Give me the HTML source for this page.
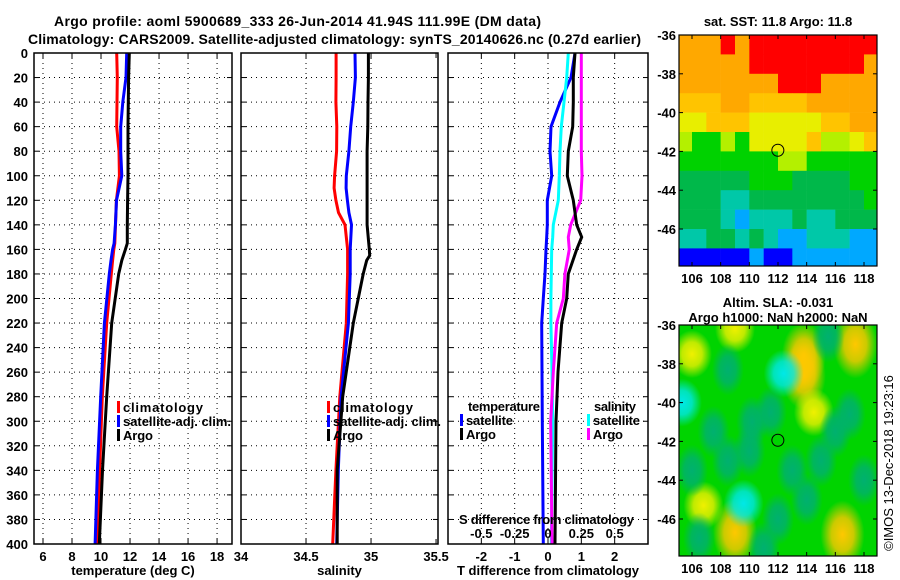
<!DOCTYPE html>
<html><head><meta charset="utf-8"><style>
body{margin:0;background:#fff}
svg{display:block;font-family:"Liberation Sans",sans-serif;font-weight:bold}
</style></head><body>
<svg id="c" width="900" height="580" viewBox="0 0 900 580" xmlns="http://www.w3.org/2000/svg">
<text x="54" y="26" font-size="14" textLength="487">Argo profile: aoml 5900689_333 26-Jun-2014 41.94S 111.99E (DM data)</text>
<text x="28" y="44" font-size="14" textLength="613">Climatology: CARS2009. Satellite-adjusted climatology: synTS_20140626.nc (0.27d earlier)</text>
<g id="g"></g>
</svg>
<script>
// ---- data ----
const depths=[0,20,40,60,80,100,120,140,155,160,169,180,220,280,340,400];
const tClim=[11.08,11.12,11.1,11.08,11.24,11.27,11.06,11.0,10.95,10.88,10.8,10.71,10.39,10.09,9.9,9.77];
const tSat=[11.77,11.72,11.5,11.36,11.36,11.43,11.07,10.99,10.9,10.8,10.69,10.57,10.23,9.98,9.75,9.59];
const tArgo=[11.95,11.9,11.88,11.86,11.86,11.86,11.83,11.81,11.81,11.68,11.43,11.22,10.74,10.39,10.1,9.88];
const sDepths=[0,20,40,60,80,100,110,120,130,140,160,165,169,180,220,280,340,400];
const sClim=[34.731,34.731,34.73,34.737,34.735,34.72,34.716,34.73,34.75,34.80,34.82,34.82,34.82,34.82,34.81,34.76,34.73,34.705];
const sSat=[34.877,34.88,34.864,34.844,34.83,34.81,34.808,34.818,34.83,34.85,34.84,34.84,34.84,34.84,34.826,34.77,34.748,34.736];
const sArgo=[34.98,34.98,34.977,34.975,34.97,34.97,34.97,34.97,34.97,34.97,34.987,34.99,34.967,34.94,34.864,34.782,34.74,34.74];
const dDepths=[0,20,40,60,80,100,120,140,150,160,180,200,220,260,300,400];
const dTSat=[0.81,0.69,0.36,0.09,0.06,0.11,-0.02,-0.02,-0.04,-0.06,-0.09,-0.14,-0.19,-0.18,-0.17,-0.14];
const dTArgo=[0.81,0.76,0.76,0.74,0.61,0.58,0.76,0.86,1.01,0.86,0.61,0.56,0.41,0.3,0.24,0.21];
const dSSat=[0.152,0.14,0.12,0.10,0.09,0.085,0.077,0.04,0.035,0.028,0.025,0.022,0.022,0.03,0.035,0.025];
const dSArgo=[0.25,0.25,0.25,0.25,0.25,0.255,0.245,0.17,0.152,0.16,0.127,0.115,0.065,0.04,0.02,0.03];
// top map SST colour class grid (rows lat -36..-48, cols lon 105..119)
const sstGrid=[
[1,1,1,0,1,0,0,0,0,0,0,0,0,0],
[1,1,1,1,1,0,0,0,0,0,0,0,0,1],
[1,1,1,1,1,1,1,0,0,0,1,1,1,1],
[2,2,2,1,1,2,2,2,2,1,1,1,1,1],
[3,3,2,2,2,3,3,3,3,3,2,2,1,1],
[4,5,5,4,5,3,3,3,3,2,4,4,3,2],
[5,5,5,5,5,5,5,4,4,5,5,5,5,5],
[6,6,6,6,6,5,5,5,6,6,6,6,5,5],
[6,6,6,7,7,6,6,6,6,6,6,6,6,5],
[6,6,6,7,8,7,7,7,6,7,7,6,6,6],
[7,7,6,6,7,6,7,8,8,7,7,7,8,8],
[9,9,9,9,9,8,9,9,8,8,8,8,8,8]];
const sstColors=["#ff0000","#ffa800","#ffc400","#e8ee00","#b4f000","#00d200","#00b84a","#00c8a8","#00a8ff","#0000ff"];
// SLA map blobs
const blobLon=[106,109,113.8,113.8,117.4,114.5,106.8,109,116.5,105.3,112.4,109.6,110.2,110,115.5,117,108.5,106.5,107.5,111.5,113,115,118,106,112,108.5,116,111,114];
const blobLat=[-37.5,-36.2,-37.6,-38.6,-37,-40.5,-45.3,-46.7,-46.8,-40,-38.5,-45.2,-41,-42.5,-36.6,-40.6,-38.3,-47,-41.5,-40.5,-43.5,-43,-44,-43.5,-46,-43,-41.5,-47.5,-45];
const blobKind=[1,1,2,2,2,1,1,2,2,3,3,3,4,4,4,4,4,4,4,4,4,4,4,4,4,4,4,4,4];
const blobColors=["","#f0f000","#ffc800","#00e8e8","#00b070"];

const NS="http://www.w3.org/2000/svg";
const G=document.getElementById('g');
function el(t,a,p){const e=document.createElementNS(NS,t);for(const k in a)e.setAttribute(k,a[k]);(p||G).appendChild(e);return e;}
function txt(x,y,s,sz,anchor,p){const e=el('text',{x:x,y:y,'font-size':sz,'text-anchor':anchor||'start'},p);e.textContent=s;return e;}

const yTop=53,yBot=544;
function yD(d){return yTop+d*(yBot-yTop)/400;}
const panels=[
 {x0:34,x1:232,v0:5.38,v1:19.03,ticks:[6,8,10,12,14,16,18],name:'temperature-panel',label:'temperature (deg C)'},
 {x0:241,x1:438,v0:34,v1:35.515,ticks:[34,34.5,35,35.5],name:'salinity-panel',label:'salinity'},
 {x0:448,x1:648,v0:-3,v1:3,ticks:[-2,-1,0,1,2],name:'difference-panel',label:'T difference from climatology'}];
function xf(p,v){return p.x0+(v-p.v0)*(p.x1-p.x0)/(p.v1-p.v0);}

panels.forEach((p,i)=>{
 const g=el('g',{});
 
 
 for(let d=20;d<400;d+=20){const l=el('line',{x1:p.x0,x2:p.x1,y1:yD(d),y2:yD(d),stroke:'#000','stroke-width':1,'stroke-dasharray':'1 4'},g);
  
  }
 p.ticks.forEach(t=>{const x=xf(p,t);
  if(x>p.x0+2&&x<p.x1-2){const l=el('line',{x1:x,x2:x,y1:yTop,y2:yBot,stroke:'#000','stroke-width':1,'stroke-dasharray':'1 4'},g);
   
   }
  el('line',{x1:x,x2:x,y1:yBot,y2:yBot-5,stroke:'#000'},g);
  el('line',{x1:x,x2:x,y1:yTop,y2:yTop+5,stroke:'#000'},g);
  const tl=txt(x,yBot+17,String(t),13,'middle',g);
  
  
 });
 const xl=txt((p.x0+p.x1)/2,yBot+31,p.label,13,'middle',g);
 
 
 if(i===0){for(let d=0;d<=400;d+=20){const yl=txt(28,yD(d)+5,String(d),13,'end',g);
   
   }}
 for(let d=20;d<400;d+=20){el('line',{x1:p.x0,x2:p.x0+5,y1:yD(d),y2:yD(d),stroke:'#000'},g);el('line',{x1:p.x1,x2:p.x1-5,y1:yD(d),y2:yD(d),stroke:'#000'},g);}
 p.g=g;
});

function line(p,ds,vs,col,scale,name){
 const pts=ds.map((d,k)=>xf(p,vs[k]*(scale||1)).toFixed(1)+','+yD(d).toFixed(1)).join(' ');
 const l=el('polyline',{points:pts,fill:'none',stroke:col,'stroke-width':3},p.g);
 
 
}
line(panels[0],depths,tClim,'#ff0000',1,'temp-climatology-line');
line(panels[0],depths,tSat,'#0000ff',1,'temp-satellite-line');
line(panels[0],depths,tArgo,'#000',1,'temp-argo-line');
line(panels[1],sDepths,sClim,'#ff0000',1,'sal-climatology-line');
line(panels[1],sDepths,sSat,'#0000ff',1,'sal-satellite-line');
line(panels[1],sDepths,sArgo,'#000',1,'sal-argo-line');
line(panels[2],dDepths,dTSat,'#0000ff',1,'tdiff-satellite-line');
line(panels[2],dDepths,dSSat,'#00ffff',4,'sdiff-satellite-line');
line(panels[2],dDepths,dSArgo,'#ff00ff',4,'sdiff-argo-line');
line(panels[2],dDepths,dTArgo,'#000',1,'tdiff-argo-line');

panels.forEach(p=>{const r=el('rect',{x:p.x0,y:yTop,width:p.x1-p.x0,height:yBot-yTop,fill:'none',stroke:'#000','stroke-width':1.5},p.g);
 
 });

function legend(x,y,col,s,name,w){
 const g=el('g',{});
 
 
 el('rect',{x:x,y:y-11,width:3,height:12,fill:col},g);
 const t=txt(x+6,y,s,13,'start',g);
 if(w)t.setAttribute('textLength',w);
}
legend(117,412,'#ff0000','climatology','legend-climatology',80);
legend(117,426,'#0000ff','satellite-adj. clim.','legend-satellite-adj',108);
legend(117,440,'#000','Argo','legend-argo',30);
legend(327,412,'#ff0000','climatology','legend-climatology-sal',80);
legend(327,426,'#0000ff','satellite-adj. clim.','legend-satellite-adj-sal',108);
legend(327,440,'#000','Argo','legend-argo-sal',30);
const tt=txt(468,411,'temperature',13);tt.setAttribute('textLength',72);
legend(460,425,'#0000ff','satellite','legend-temp-satellite',47);
legend(460,439,'#000','Argo','legend-temp-argo',30);
const st=txt(594,411,'salinity',13);st.setAttribute('textLength',42);
legend(587,425,'#00ffff','satellite','legend-sal-satellite',47);
legend(587,439,'#ff00ff','Argo','legend-sal-argo',30);
const sa=txt(459,524,'S difference from climatology',13);sa.setAttribute('textLength',175);
[-0.5,-0.25,0,0.25,0.5].forEach(v=>{const t=txt(xf(panels[2],v*4),538,String(v),13,'middle');
 
 });

// ---- maps ----
const mx0=679,mx1=877;
function lonX(l){return 692+(l-106)*14.333;}
function mapAxes(y0,y1,g){
 const latY=lat=>y0+(-36-lat)*19.4;
 for(let la=-36;la>=-46;la-=2){const y=latY(la);el('line',{x1:mx0,x2:mx0+4,y1:y,y2:y,stroke:'#000'},g);el('line',{x1:mx1,x2:mx1-4,y1:y,y2:y,stroke:'#000'},g);
  const t=txt(676,y+5,String(la),13,'end',g);
  
  }
 for(let lo=106;lo<=118;lo+=2){const x=lonX(lo);el('line',{x1:x,x2:x,y1:y1,y2:y1-4,stroke:'#000'},g);el('line',{x1:x,x2:x,y1:y0,y2:y0+4,stroke:'#000'},g);
  const t=txt(x,y1+17,String(lo),13,'middle',g);
  
  }
 el('rect',{x:mx0,y:y0,width:mx1-mx0,height:y1-y0,fill:'none',stroke:'#000','stroke-width':1.2},g);
 el('circle',{cx:lonX(111.99),cy:latY(-41.94),r:6,fill:'none',stroke:'#000','stroke-width':1},g);
 return latY;
}
const defs=el('defs',{});
el('clipPath',{id:'c1'},defs);el('rect',{x:mx0,y:35,width:mx1-mx0,height:231},defs.lastChild);
el('clipPath',{id:'c2'},defs);el('rect',{x:mx0,y:325,width:mx1-mx0,height:231},defs.lastChild);
blobColors.forEach((c,i)=>{if(!c)return;const rg=el('radialGradient',{id:'b'+i},defs);
 el('stop',{offset:'0','stop-color':c,'stop-opacity':1},rg);el('stop',{offset:'0.5','stop-color':c,'stop-opacity':0.8},rg);el('stop',{offset:'1','stop-color':c,'stop-opacity':0},rg);});

const m1=el('g',{});


const c1=el('g',{'clip-path':'url(#c1)'},m1);
const latY1=lat=>35+(-36-lat)*19.4;
sstGrid.forEach((row,r)=>row.forEach((v,k)=>{
 const cell=el('rect',{x:lonX(105+k),y:latY1(-36-r),width:14.6,height:19.7,fill:sstColors[v]},c1);
 
 }));
mapAxes(35,266,m1);
const t1=txt(778,26,'sat. SST: 11.8 Argo: 11.8',13,'middle',m1);

const m2=el('g',{});


const c2=el('g',{'clip-path':'url(#c2)'},m2);
const latY2=lat=>325+(-36-lat)*19.4;
el('rect',{x:mx0,y:325,width:mx1-mx0,height:231,fill:'#00d400'},c2);
blobLon.forEach((lo,i)=>{const k=blobKind[i];
 const b=el('ellipse',{cx:lonX(lo),cy:latY2(blobLat[i]),rx:k===2?22:(k===4?16:20),ry:k===2?34:(k===4?26:24),fill:'url(#b'+k+')'},c2);
 
 });
mapAxes(325,556,m2);
const t2=txt(778,307,'Altim. SLA: -0.031',13,'middle',m2);
const t3=txt(778,322,'Argo h1000: NaN h2000: NaN',13,'middle',m2);
const cp=txt(0,0,'©IMOS 13-Dec-2018 19:23:16',13,'middle');
cp.setAttribute('transform','translate(893,463) rotate(-90)');
cp.setAttribute('font-weight','normal');


</script>
</body></html>
